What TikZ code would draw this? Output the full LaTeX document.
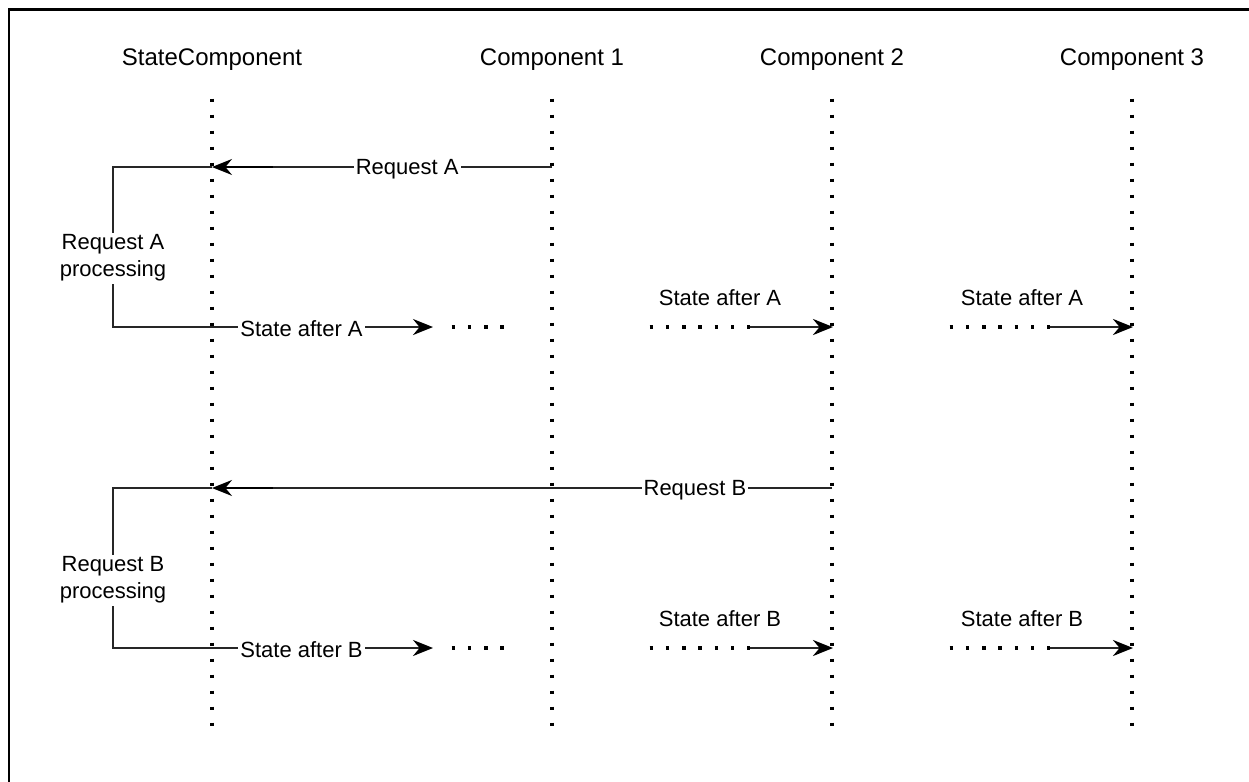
\documentclass[tikz,border=0pt]{standalone}
\usepackage{fontspec}
\setmainfont{Liberation Sans}
\usetikzlibrary{arrows.meta,calc}

\begin{document}
\begin{tikzpicture}[x=0.5pt,y=-0.5pt,
  every node/.style={inner sep=0pt, outer sep=0pt, text=black},
  header/.style={font=\fontsize{12}{14.4}\selectfont},
  lbl/.style={font=\fontsize{11}{13.5}\selectfont, fill=white, inner xsep=1pt, inner ysep=1pt, align=center},
  freelbl/.style={font=\fontsize{11}{13.5}\selectfont},
  lifeline/.style={line width=1.7pt, dash pattern=on 1.7pt off 6.3pt, black},
  trail/.style={line width=1.7pt, dash pattern=on 1.7pt off 6.45pt, black},
  conn/.style={line width=0.85pt, black!85},
  msg/.style={conn, -{Stealth[length=10pt,width=8pt,inset=3.3pt,color=black]}},
  shaft/.style={line width=1.4pt, black},
]
\useasboundingbox (0,0) rectangle (1249,782);

% outer frame (top and left edges)
\draw[line width=1.3pt] (1249,9.5) -- (9,9.5) -- (9,782);

% participants
\node[header] (hS) at (212,60) {StateComponent};
\node[header] (h1) at (552,60) {Component 1};
\node[header] (h2) at (832,60) {Component 2};
\node[header] (h3) at (1132,60) {Component 3};

% lifelines
\foreach \n/\x in {S/212,c1/552,c2/832,c3/1132} {
  \coordinate (\n-top) at (\x,98.5);
  \coordinate (\n-bot) at (\x,728);
  \draw[lifeline] (\n-top) -- (\n-bot);
}

% anchor points
\coordinate (S-ra) at (212,167);
\coordinate (c1-ra) at (552,167);
\coordinate (S-sa) at (212,327);
\coordinate (S-rb) at (212,488);
\coordinate (c2-rb) at (832,488);
\coordinate (S-sb) at (212,648);
\coordinate (bA1) at (113,167);
\coordinate (bA2) at (113,327);
\coordinate (bB1) at (113,488);
\coordinate (bB2) at (113,648);
\coordinate (sa-end) at (433,327);
\coordinate (sb-end) at (433,648);
\coordinate (c2-sa) at (833,327);
\coordinate (c3-sa) at (1133,327);
\coordinate (c2-sb) at (833,648);
\coordinate (c3-sb) at (1133,648);

% ---- request A ----
\draw[msg] (c1-ra) -- node[lbl,pos=0.426,yshift=-1pt]{Request A} (S-ra);
\draw[shaft] ($(S-ra)+(61,0)$) -- ($(S-ra)+(10,0)$);
\draw[conn] (S-ra) -- (bA1) -- node[lbl,pos=0.57]{Request A\\processing} (bA2) -- (S-sa);
\draw[msg, line width=1.2pt] (S-sa) -- node[lbl,pos=0.405,yshift=-1pt]{State after A} (sa-end);
\draw[trail] (451.5,327) -- (505,327);

\draw[trail] (649.5,327) -- (750,327);
\draw[msg, line width=1.4pt] (750,327) -- (c2-sa);
\node[freelbl] (sa2) at (720,298) {State after A};

\draw[trail] (949.5,327) -- (1050,327);
\draw[msg, line width=1.4pt] (1050,327) -- (c3-sa);
\node[freelbl] (sa3) at (1022,298) {State after A};

% ---- request B ----
\draw[msg] (c2-rb) -- node[lbl,pos=0.221,yshift=-1pt]{Request B} (S-rb);
\draw[shaft] ($(S-rb)+(61,0)$) -- ($(S-rb)+(10,0)$);
\draw[conn] (S-rb) -- (bB1) -- node[lbl,pos=0.576]{Request B\\processing} (bB2) -- (S-sb);
\draw[msg, line width=1.2pt] (S-sb) -- node[lbl,pos=0.405,yshift=-1pt]{State after B} (sb-end);
\draw[trail] (451.5,648) -- (505,648);

\draw[trail] (649.5,648) -- (750,648);
\draw[msg, line width=1.4pt] (750,648) -- (c2-sb);
\node[freelbl] (sb2) at (720,619) {State after B};

\draw[trail] (949.5,648) -- (1050,648);
\draw[msg, line width=1.4pt] (1050,648) -- (c3-sb);
\node[freelbl] (sb3) at (1022,619) {State after B};
\end{tikzpicture}
\end{document}
